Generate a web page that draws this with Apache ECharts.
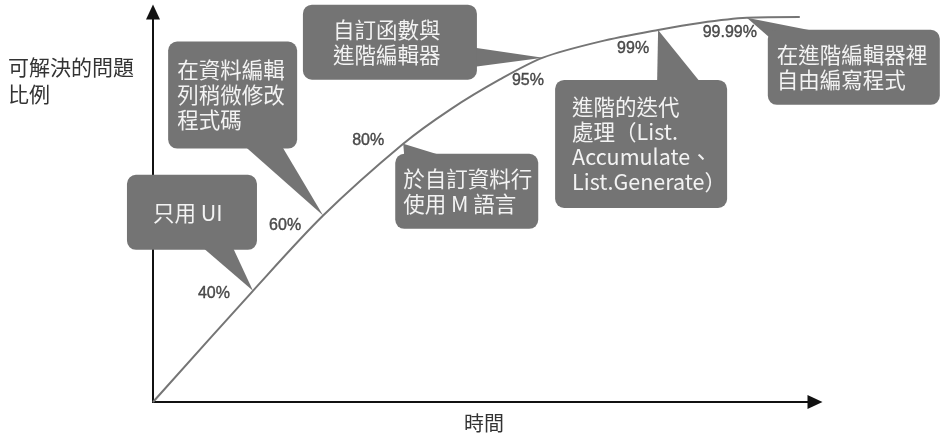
<!DOCTYPE html>
<html>
<head>
<meta charset="utf-8">
<script src="https://cdn.jsdelivr.net/npm/echarts@6/dist/echarts.min.js"></script>
<style>
  html, body { margin: 0; padding: 0; background: #ffffff; }
  #chart { width: 946px; height: 438px; }
</style>
</head>
<body>
<div id="chart"></div>
<script>
// Learning curve: share of problems that can be solved over time (schematic units, 0-100)
const curveTime  = [0, 15.1, 25.7, 37.8, 45.0, 52.4, 58.9, 67.5, 76.3, 82.6, 89.7, 97.7];
const curveLevel = [0, 28.5, 47.8, 66.2, 75.1, 82.7, 88.3, 92.4, 95.4, 97.2, 98.5, 98.7];

// Milestones along the curve
const milestoneTime  = [15.1, 25.7, 37.8, 58.9, 76.3, 89.7];
const milestoneLevel = [28.5, 47.8, 66.2, 88.3, 95.4, 98.5];
const milestoneShare = ['40%', '60%', '80%', '95%', '99%', '99.99%'];
const milestoneNote = [
  '只用 UI',
  '在資料編輯\n列稍微修改\n程式碼',
  '於自訂資料行\n使用 M 語言',
  '自訂函數與\n進階編輯器',
  '進階的迭代\n處理（List.\nAccumulate、\nList.Generate）',
  '在進階編輯器裡\n自由編寫程式'
];

const axisNameY = '可解決的問題\n比例';
const axisNameX = '時間';

// Callout placement relative to the milestone point (pixels):
// bx/by = box top-left offset, w/h = box size, tail = base points of the pointer
// relative to the box, tx = text left inset
const calloutLayout = [
  { bx: -126, by: -116, w: 130, h: 75,  tail: [[76, 73], [106, 73]],  tx: 26 },
  { bx: -155, by: -174, w: 129, h: 107, tail: [[77, 105], [114, 105]], tx: 9 },
  { bx: -8,   by: 10,   w: 143, h: 75,  tail: [[9, 2], [47, 2]],       tx: 8 },
  { bx: -240, by: -53,  w: 174, h: 75,  tail: [[172, 43], [172, 62]],  tx: 30 },
  { bx: -103, by: 50,   w: 172, h: 128, tail: [[102, 2], [145, 2]],    tx: 17 },
  { bx: 21,   by: 12,   w: 172, h: 75,  tail: [[50, 2], [2, 8]],       tx: 9 }
];
// Offsets of the percentage labels from their milestone points
const shareLabelOffset = [[-39, 3], [-38, 10], [-35, -3], [-15, 23], [-25, 19], [-17, 15]];

const BOX_FILL = '#747474';
const CJK_FONT = '"Noto Sans CJK TC", "Noto Sans CJK SC", sans-serif';

const milestonePoints = milestoneTime.map((t, i) => [t, milestoneLevel[i]]);

const chart = echarts.init(document.getElementById('chart'), null, { renderer: 'canvas' });

const axisCommon = {
  type: 'value',
  min: 0,
  max: 100,
  axisLine: {
    show: true,
    symbol: ['none', 'triangle'],
    symbolSize: [14, 15],
    lineStyle: { color: '#111111', width: 2 }
  },
  axisTick: { show: false },
  axisLabel: { show: false },
  splitLine: { show: false }
};

chart.setOption({
  animation: false,
  backgroundColor: '#ffffff',
  grid: { left: 153, right: 131, top: 12, bottom: 33 },
  xAxis: Object.assign({}, axisCommon, {
    name: axisNameX,
    nameLocation: 'middle',
    nameGap: 11,
    nameTextStyle: { fontFamily: CJK_FONT, fontSize: 20, color: '#333333' }
  }),
  yAxis: Object.assign({}, axisCommon),
  graphic: [{
    type: 'text',
    left: 8,
    top: 54,
    style: {
      text: axisNameY,
      fontFamily: CJK_FONT,
      fontSize: 21,
      lineHeight: 27,
      fill: '#333333'
    }
  }],
  series: [
    {
      type: 'line',
      data: curveTime.map((t, i) => [t, curveLevel[i]]),
      smooth: 0.3,
      showSymbol: false,
      lineStyle: { color: '#757575', width: 2 },
      z: 3
    },
    {
      type: 'scatter',
      symbolSize: 0,
      z: 4,
      data: milestonePoints.map((p, i) => ({
        value: p,
        label: {
          position: shareLabelOffset[i],
          align: 'center',
          verticalAlign: 'middle'
        }
      })),
      label: {
        show: true,
        formatter: p => milestoneShare[p.dataIndex],
        fontFamily: '"Liberation Sans", Arial, sans-serif',
        fontSize: 16,
        color: '#262626',
        textBorderColor: '#262626',
        textBorderWidth: 0.4
      }
    },
    {
      type: 'custom',
      data: milestonePoints,
      clip: false,
      z: 5,
      renderItem: function (params, api) {
        const i = params.dataIndex;
        const L = calloutLayout[i];
        const tip = api.coord([api.value(0), api.value(1)]);
        const x0 = tip[0] + L.bx;
        const y0 = tip[1] + L.by;
        return {
          type: 'group',
          children: [
            {
              type: 'polygon',
              shape: { points: [tip, [x0 + L.tail[0][0], y0 + L.tail[0][1]], [x0 + L.tail[1][0], y0 + L.tail[1][1]]] },
              style: { fill: BOX_FILL }
            },
            {
              type: 'rect',
              shape: { x: x0, y: y0, width: L.w, height: L.h, r: 9 },
              style: { fill: BOX_FILL }
            },
            {
              type: 'text',
              style: {
                text: milestoneNote[i],
                x: x0 + L.tx,
                y: y0 + L.h / 2,
                fill: '#f3f3f3',
                fontFamily: CJK_FONT,
                fontSize: 21.5,
                lineHeight: 25,
                align: 'left',
                verticalAlign: 'middle'
              }
            }
          ]
        };
      }
    }
  ]
});
</script>
</body>
</html>
